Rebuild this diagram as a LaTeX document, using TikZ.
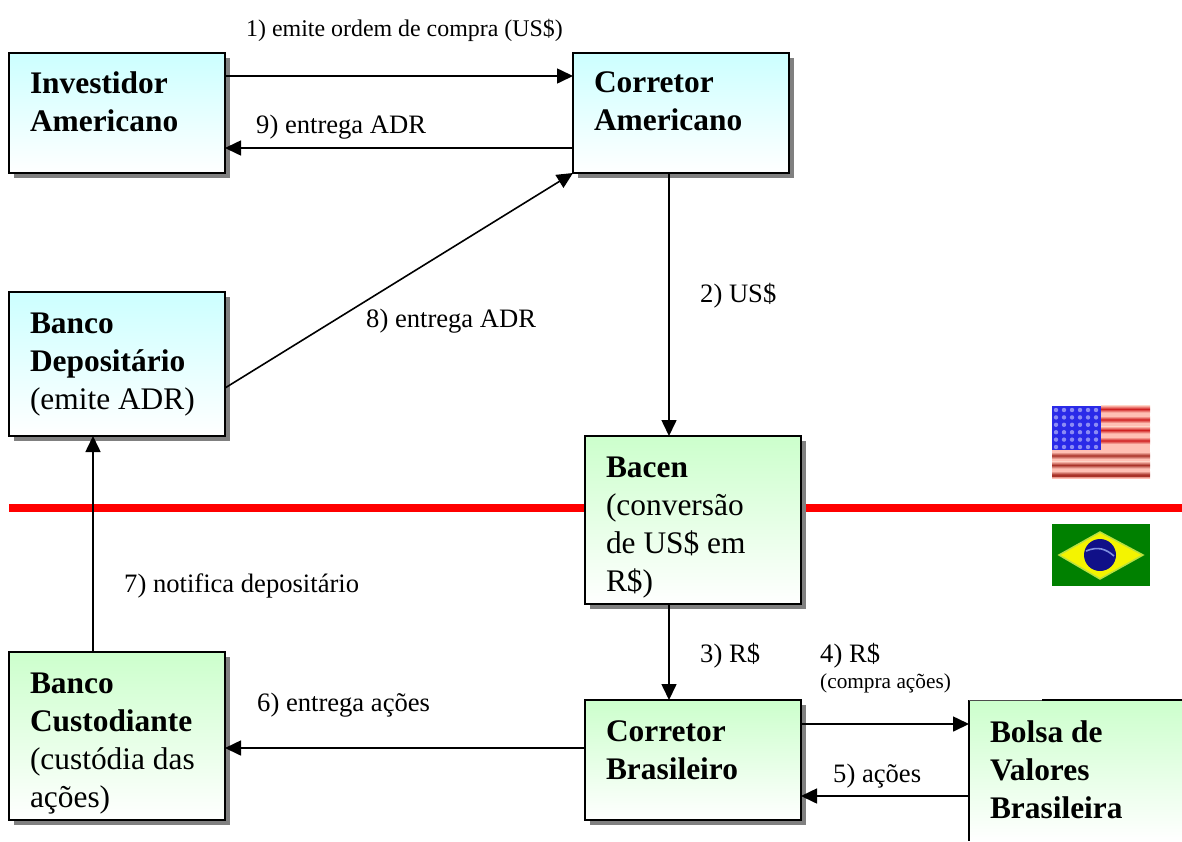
\documentclass[tikz,border=0pt]{standalone}
\usepackage{fontspec}
\setmainfont{Liberation Serif}
\usetikzlibrary{arrows.meta,shadows,calc}
\newcommand{\boxtext}[4]{\begin{minipage}[c][#1pt][t]{#2pt}\vspace{#3pt}\fontsize{31.4}{38}\selectfont #4\end{minipage}}
\tikzset{
  base/.style={anchor=north west,inner xsep=21pt,inner ysep=0pt,align=left,outer sep=0pt},
  blueshadow/.style={general shadow={shadow xshift=5pt,shadow yshift=-5pt,fill=shgray}},
  panel/.style={base,draw=black,line width=1.7pt,blueshadow},
  usbox/.style={panel,top color=pcyan,bottom color=white},
  brbox/.style={panel,top color=pgreen,bottom color=white},
  flow/.style={draw=black,line width=1.6pt,-{Triangle[length=16pt,width=15pt]}},
  lab/.style={anchor=base west,inner sep=0pt,font=\fontsize{26.6}{30}\selectfont},
  toplab/.style={anchor=base west,inner sep=0pt,font=\fontsize{23.9}{28}\selectfont},
  smalllab/.style={anchor=base west,inner sep=0pt,font=\fontsize{21.3}{25}\selectfont}
}
\definecolor{pcyan}{HTML}{CCFFFF}
\definecolor{pgreen}{HTML}{CCFFCC}
\definecolor{shgray}{HTML}{808080}
\definecolor{usdark}{HTML}{A83228}
\definecolor{usred}{HTML}{D02020}
\definecolor{uspale}{HTML}{FFC0B4}
\definecolor{usblue}{HTML}{2A2AE8}
\definecolor{usdot}{HTML}{8C8CF4}
\definecolor{brgreen}{HTML}{008000}
\definecolor{bryellow}{HTML}{F4F400}
\definecolor{brhalo}{HTML}{B8E040}
\definecolor{brblue}{HTML}{101088}
\definecolor{brband}{HTML}{8090E0}
\begin{document}
\begin{tikzpicture}[x=1pt,y=-1pt]
\useasboundingbox (0,0) rectangle (1182,841);
\clip (0,0) rectangle (1182,841);
% border between countries
\fill[red] (9,504) rectangle (1182,512);
% US flag
\fill[uspale] (1052,406) rectangle (1150,477);
\foreach \i in {0,...,3}{\shade[top color=uspale,bottom color=uspale,middle color=usred] (1101,{405.5+\i*10.5}) rectangle (1150,{412.5+\i*10.5});}
\foreach \i in {0,1,2}{\shade[top color=uspale,bottom color=uspale,middle color=usdark] (1052,{452+\i*9.5}) rectangle (1150,{459+\i*9.5});}
\fill[usdark] (1052,474.5) rectangle (1150,477);
\fill[usblue] (1052,406) rectangle (1101,450);
\foreach \r in {0,...,5}{\foreach \c in {0,...,5}{\fill[usdot] ({1056+\c*8},{410+\r*7.4}) circle (2.2);}}
% Brazilian flag
\fill[brgreen] (1052,524) rectangle (1150,586);
\fill[bryellow,draw=brhalo,line width=1.5pt] (1059,555) -- (1100,532) -- (1143,555) -- (1100,579) -- cycle;
\fill[brblue] (1100,555) circle (16);
\draw[brband,line width=1.6pt] (1086,551) .. controls (1098,546) and (1106,549) .. (1114,556);
% boxes
\node[usbox] (inv) at (9,53) {\boxtext{120}{174}{19}{\textbf{Investidor}\\\textbf{Americano}}};
\node[usbox] (cam) at (573,53) {\boxtext{120}{174}{19}{\textbf{Corretor}\\\textbf{Americano}}};
\node[usbox] (dep) at (9,292) {\boxtext{144}{174}{21}{\textbf{Banco}\\\textbf{Depositário}\\(emite ADR)}};
\node[brbox] (bac) at (585,436) {\boxtext{168}{174}{21}{\textbf{Bacen}\\(conversão\\de US\$ em\\R\$)}};
\node[brbox] (cus) at (9,652) {\boxtext{168}{174}{21}{\textbf{Banco}\\\textbf{Custodiante}\\(custódia das\\ações)}};
\node[brbox] (cbr) at (585,700) {\boxtext{120}{174}{21}{\textbf{Corretor}\\\textbf{Brasileiro}}};
\node[base,top color=pgreen,bottom color=white] (bol) at (969,700) {\boxtext{141}{171}{21}{\textbf{Bolsa de}\\\textbf{Valores}\\\textbf{Brasileira}}};
\draw[line width=1.7pt] (bol.north west) -- (bol.south west);
\draw[line width=.8pt,black!70] (bol.north west) -- ([xshift=73]bol.north west);
\draw[line width=1.7pt] ([xshift=73]bol.north west) -- (bol.north east);
% connectors
\coordinate (spine) at ([xshift=96]cam.south west);
\draw[flow] ([yshift=-23]inv.north east) -- ([yshift=-23]cam.north west);
\draw[flow] ([yshift=-95]cam.north west) -- ([yshift=-95]inv.north east);
\draw[flow] (spine) -- (spine |- bac.north);
\draw[flow] ([yshift=-96]dep.north east) -- (cam.south west);
\draw[flow] ([xshift=84]cus.north west) -- ([xshift=84]dep.south west);
\draw[flow] (spine |- bac.south) -- (spine |- cbr.north);
\draw[flow] ([yshift=-24]cbr.north east) -- ([yshift=-24]bol.north west);
\draw[flow] ([yshift=-96]bol.north west) -- ([yshift=-96]cbr.north east);
\draw[flow] ([yshift=-48]cbr.north west) -- ([yshift=-96]cus.north east);
% labels
\node[toplab] (l1) at (246,36) {1) emite ordem de compra (US\$)};
\node[lab] (l9) at (256,133) {9) entrega ADR};
\node[lab] (l8) at (366,327) {8) entrega ADR};
\node[lab] (l2) at (700,302) {2) US\$};
\node[lab] (l3) at (700,662) {3) R\$};
\node[lab] (l4) at (820,662) {4) R\$};
\node[smalllab] (l4b) at (820,688) {(compra ações)};
\node[lab] (l5) at (833,782) {5) ações};
\node[lab] (l6) at (257,711) {6) entrega ações};
\node[lab] (l7) at (124,592) {7) notifica depositário};
\end{tikzpicture}
\end{document}
